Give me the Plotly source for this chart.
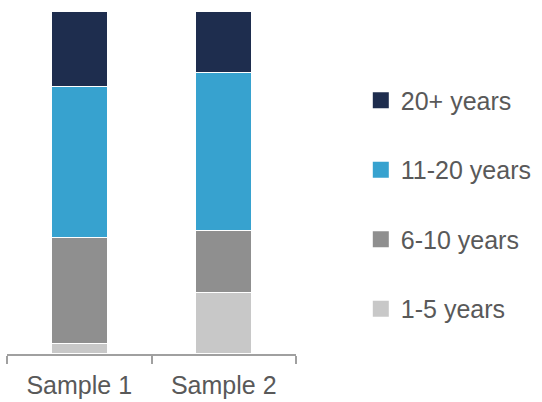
import plotly.graph_objects as go

categories = ["Sample 1", "Sample 2"]
series_names = ["1-5 years", "6-10 years", "11-20 years", "20+ years"]
values_1_5 = [3, 18]
values_6_10 = [31, 18]
values_11_20 = [44, 46]
values_20p = [22, 18]
colors = ["#C8C8C8", "#8F8F8F", "#37A2CF", "#1E2D4E"]

series_values = [values_1_5, values_6_10, values_11_20, values_20p]

fig = go.Figure()
# legend entries (top to bottom: 20+ ... 1-5)
for name, col in reversed(list(zip(series_names, colors))):
    fig.add_trace(go.Scatter(
        x=[None], y=[None], mode="markers", name=name, legendgroup=name,
        marker=dict(symbol="square", size=16, color=col),
        showlegend=True, hoverinfo="skip",
    ))
# stacked bars (bottom to top: 1-5 ... 20+)
for name, vals, col in zip(series_names, series_values, colors):
    fig.add_trace(go.Bar(
        x=categories, y=vals, name=name, legendgroup=name, showlegend=False,
        marker=dict(color=col, line=dict(color="white", width=1.5)),
        width=0.39,
    ))

fig.update_layout(
    width=542, height=402,
    margin=dict(l=7, r=245, t=11, b=48),
    barmode="stack",
    plot_bgcolor="white", paper_bgcolor="white",
    font=dict(family="Liberation Sans, Arial, sans-serif", size=25, color="#595959"),
    showlegend=True,
    legend=dict(
        x=1.22, xanchor="left", y=0.436, yanchor="middle",
        traceorder="grouped", tracegroupgap=34,
        font=dict(size=25, color="#595959"),
        bgcolor="rgba(0,0,0,0)",
    ),
    xaxis=dict(
        type="category", categoryorder="array", categoryarray=categories,
        range=[-0.5, len(categories) - 0.5], automargin=False,
        showline=True, linecolor="#A0A0A0", linewidth=1.5,
        ticks="outside", tickson="boundaries", ticklen=8, tickcolor="#A0A0A0", tickwidth=1.5,
        showgrid=False, zeroline=False, ticklabelstandoff=8,
        tickfont=dict(size=25, color="#595959"),
    ),
    yaxis=dict(range=[0, 100], visible=False, showgrid=False, zeroline=False, automargin=False),
)

fig.write_html("out.html")
